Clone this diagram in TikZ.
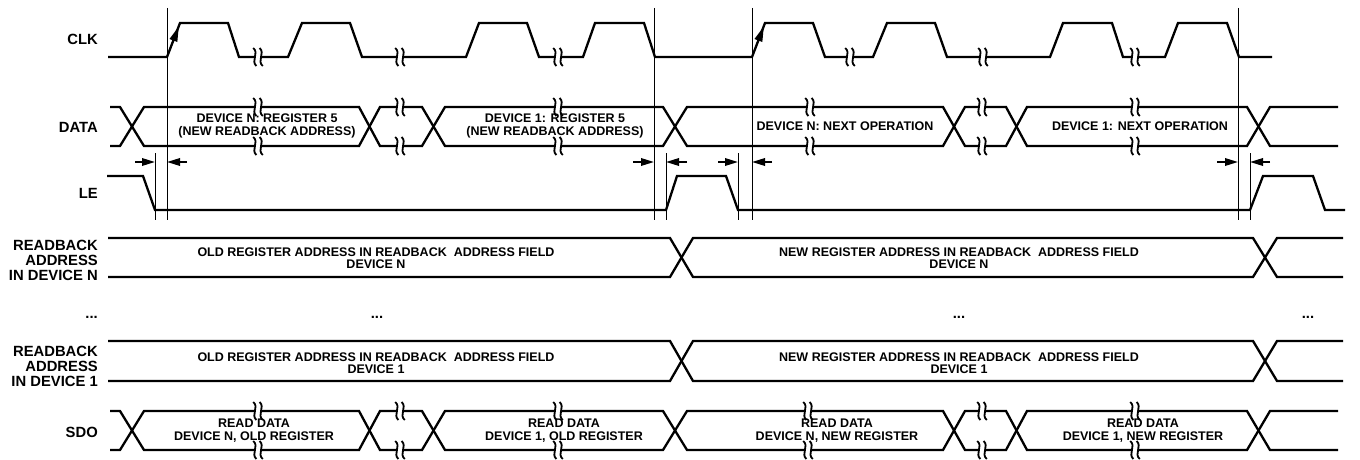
\documentclass[tikz,border=0pt]{standalone}
\usepackage{fontspec}
\setmainfont{Liberation Sans}
\usetikzlibrary{arrows.meta}
\newcommand\brk[2]{%
  \fill[white] (#1-3.2,#2-2.2) rectangle (#1+3.2,#2+2.2);
  \draw[sq] (#1-4.8,#2-9) .. controls (#1+1.5,#2-4) and (#1-7.5,#2+4) .. (#1-1.6,#2+9);
  \draw[sq] (#1+1.6,#2-9) .. controls (#1+7.5,#2-4) and (#1-1.5,#2+4) .. (#1+4.8,#2+9);}
\newcommand\bus[2]{%
  \draw[sig] (110,#1)--(120,#1)--(144,#2)--(359,#2)--(380,#1)--(422,#1)--(445,#2)--(663,#2)--(687,#1)--(943,#1)--(965,#2)--(1006,#2)--(1027,#1)--(1247,#1)--(1270,#2)--(1338,#2);
  \draw[sig] (110,#2)--(120,#2)--(144,#1)--(359,#1)--(380,#2)--(422,#2)--(445,#1)--(663,#1)--(687,#2)--(943,#2)--(965,#1)--(1006,#1)--(1027,#2)--(1247,#2)--(1270,#1)--(1338,#1);}
\newcommand\rbk[2]{%
  \draw[sig] (108,#1)--(670,#1)--(693,#2)--(1253,#2)--(1277,#1)--(1343,#1);
  \draw[sig] (108,#2)--(670,#2)--(693,#1)--(1253,#1)--(1277,#2)--(1343,#2);}
\begin{document}
\begin{tikzpicture}[x=1pt,y=-1pt,
  sig/.style={line width=2.3pt,line join=miter},
  thin/.style={line width=0.9pt},
  sq/.style={line width=1.8pt},
  tarr/.style={line width=1.8pt,-{Triangle[length=13pt,width=7.5pt]}},
  carr/.style={line width=1.4pt,-{Triangle[length=15pt,width=8pt]}},
  lab/.style={font=\fontsize{14.8}{15}\selectfont\bfseries,anchor=east,align=right,inner sep=0pt},
  txt/.style={font=\fontsize{12.5}{13}\selectfont\bfseries,align=center,inner sep=0pt},
  txtb/.style={font=\fontsize{12.5}{12}\selectfont\bfseries,align=center,inner sep=0pt}]
\fill[white] (0,0) rectangle (1360,460);
\useasboundingbox (0,0) rectangle (1360,460);
% reference verticals
\foreach \x in {167,654,752,1238} \draw[thin] (\x,8)--(\x,220);
\foreach \x in {155,666,738,1250} \draw[thin] (\x,153)--(\x,220);
% CLK
\draw[sig] (108,57)--(167,57)--(180,23)--(228,23)--(239,57)--(288,57)--(302,23)--(350,23)--(362,57)--(466,57)--(479,23)--(527,23)--(539,57)--(583,57)--(595,23)--(644,23)--(655,57)--(752,57)--(765,23)--(813,23)--(825,57)--(873,57)--(887,23)--(935,23)--(947,57)--(1050,57)--(1063,23)--(1112,23)--(1123,57)--(1165,57)--(1178,23)--(1227,23)--(1239,57)--(1272,57);
\foreach \x in {258,400,558,850,983,1135} \brk{\x}{57};
\draw[carr] (168.0,54.5)--(178.8,26.5);
\draw[carr] (753.0,54.5)--(763.8,26.5);
% DATA
\bus{107}{146}
\foreach \x in {258,400,558,810,982,1135} {\brk{\x}{107}\brk{\x}{146}}
% LE
\draw[sig] (107,176)--(143,176)--(155,210)--(666,210)--(677,176)--(726,176)--(738,210)--(1250,210)--(1263,176)--(1313,176)--(1325,210)--(1345,210);
% timing arrows
\foreach \a/\b in {135/155,187/167,633/654,687/666,718/738,772/752,1217/1238,1270/1250}
  \draw[tarr] (\a,162)--(\b,162);
% readback
\rbk{238}{277}
\rbk{341}{381}
% SDO
\bus{411}{450}
\foreach \x in {258,400,558,808,982,1135} {\brk{\x}{411}\brk{\x}{450}}
% labels
\node[lab] (lclk) at (98,39) {CLK};
\node[lab] (ldata) at (98,127) {DATA};
\node[lab] (lle) at (98,193) {LE};
\node[lab] (lrbn) at (98,260) {READBACK\\ADDRESS\\IN DEVICE N};
\node[lab] (ldots) at (98,317) {...};
\node[lab] (lrb1) at (98,366) {READBACK\\ADDRESS\\IN DEVICE 1};
\node[lab] (lsdo) at (98,432) {SDO};
% data texts
\node[txt] (d1) at (267,126) {DEVICE N: REGISTER 5\\(NEW READBACK ADDRESS)};
\node[txt] (d2) at (555,126) {DEVICE 1: REGISTER 5\\(NEW READBACK ADDRESS)};
\node[txt] (d3) at (845,126) {DEVICE N: NEXT OPERATION};
\node[txt] (d4) at (1140,126) {DEVICE 1: NEXT OPERATION};
% readback texts
\node[txtb] (r1) at (376,258) {OLD REGISTER ADDRESS IN READBACK~ ADDRESS FIELD\\DEVICE N};
\node[txtb] (r2) at (959,258) {NEW REGISTER ADDRESS IN READBACK~ ADDRESS FIELD\\DEVICE N};
\node[txtb] (r3) at (376,363) {OLD REGISTER ADDRESS IN READBACK~ ADDRESS FIELD\\DEVICE 1};
\node[txtb] (r4) at (959,363) {NEW REGISTER ADDRESS IN READBACK~ ADDRESS FIELD\\DEVICE 1};
\node[lab,anchor=center] (m1) at (377,317) {...};
\node[lab,anchor=center] (m2) at (959,317) {...};
\node[lab,anchor=center] (m3) at (1308,317) {...};
% SDO texts
\node[txt] (s1) at (254,430.5) {READ DATA\\DEVICE N, OLD REGISTER};
\node[txt] (s2) at (564,430.5) {READ DATA\\DEVICE 1, OLD REGISTER};
\node[txt] (s3) at (837,430.5) {READ DATA\\DEVICE N, NEW REGISTER};
\node[txt] (s4) at (1143,430.5) {READ DATA\\DEVICE 1, NEW REGISTER};
\end{tikzpicture}
\end{document}
